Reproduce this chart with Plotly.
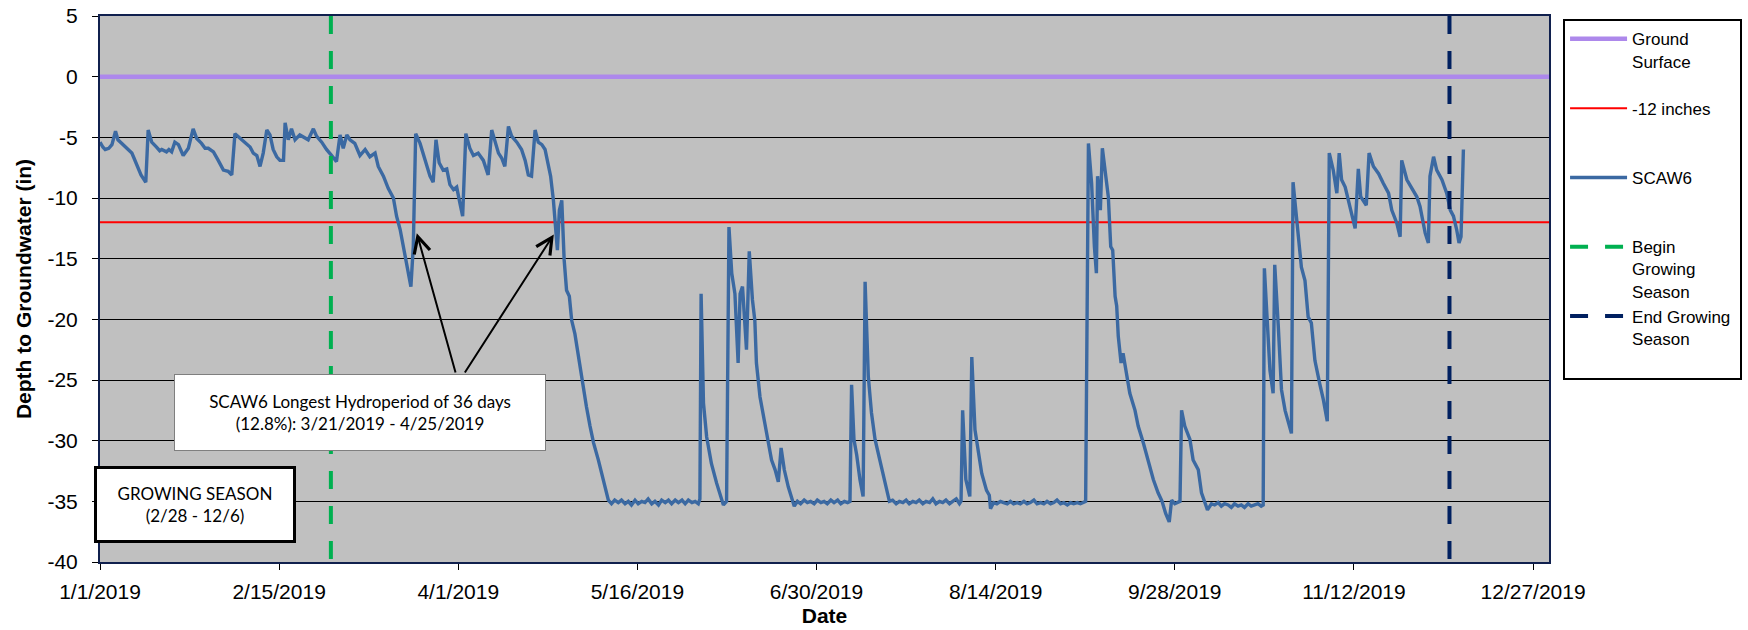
import plotly.graph_objects as go
import pandas as pd

# ---------------- data ----------------
# SCAW6 depth to groundwater: day offset from 1/1/2019 and depth (in)
scaw6_day = [
    0, 0.7, 1.3, 2.2, 3.0, 3.9, 4.5, 5.4, 6.3, 7.1, 8.0, 8.4, 9.0, 9.6, 10.3, 10.9, 11.5,
    12.1, 13.0, 14.2, 15.0, 15.5, 16.7, 17.3, 18.0, 18.8, 19.7, 20.9, 22.2, 23.4, 24.3,
    25.5, 26.4, 27.2, 28.5, 29.7, 31.0, 32.2, 33.1, 33.9, 35.2, 36.4, 37.7, 38.5, 39.4,
    40.2, 41.0, 41.9, 42.7, 43.5, 44.4, 45.2, 46.1, 46.5, 47.3, 48.1, 49.0, 50.2, 51.5,
    52.3, 53.6, 54.4, 55.7, 56.9, 58.2, 59.4, 60.3, 61.1,
    62.0, 62.8, 64.0, 65.3, 66.6, 67.8, 69.1, 69.9, 71.2, 72.4, 73.7, 74.5, 75.4, 76.6,
    77.5, 78.1, 78.7, 79.3, 80.4, 81.6, 82.9, 83.7, 84.4, 85.2, 86.2, 87.1, 87.9, 88.8,
    89.6, 90.4, 91.1, 91.9, 92.9, 93.8, 95.0, 96.3, 97.5, 98.4, 99.2, 100.1, 100.9, 101.7,
    102.6, 103.4, 104.7, 105.9, 106.8, 107.6, 108.4, 109.3, 110.1, 111.0, 111.8, 112.6,
    113.2, 113.9, 114.5, 114.9, 115.4, 116.0, 116.6, 117.2, 117.9, 118.5, 119.3, 120.2,
    121.0, 122.2, 123.1,
    124.0, 125.2, 126.4, 127.7, 128.5, 129.3, 130.2, 131.0, 131.9, 132.7, 133.5, 134.4,
    135.2, 136.1, 136.9, 137.7, 138.6, 139.4, 140.3, 141.1, 142.0, 142.8, 143.6, 144.5,
    145.3, 146.2, 147.0, 147.8, 148.7, 149.5, 150.3, 150.7, 151.0, 151.6, 152.4, 153.6,
    154.9, 155.7, 156.6, 157.4, 158.0, 158.7, 159.5, 160.3, 160.8, 161.4, 162.4, 163.1,
    163.9, 164.5, 164.9, 165.8, 167.0, 167.9, 168.7, 169.6, 170.4, 171.1, 171.9, 172.9,
    173.7, 174.4, 175.2, 176.0, 176.9, 177.7, 178.5, 179.4, 180.2, 181.1, 181.9, 182.7,
    183.6, 184.4,
    185.3, 186.1, 187.0, 187.8, 188.4, 188.8, 189.4, 190.1, 190.9, 191.7, 192.2, 193.0,
    193.8, 194.7, 195.9, 197.2, 198.3, 199.1, 200.0, 200.8, 201.7, 202.5, 203.3, 204.2,
    205.0, 205.8, 206.7, 207.5, 208.4, 209.2, 210.0, 210.9, 211.7, 212.5, 213.4, 214.2,
    215.1, 215.9, 216.3, 216.7, 217.5, 218.5, 219.0, 219.8, 220.6, 221.5, 222.7, 223.4,
    223.7, 224.5, 225.3, 226.2, 227.0, 227.9, 228.7, 229.5, 230.4, 231.2, 232.1, 232.9,
    233.7, 234.6, 235.4, 236.3, 237.1, 237.9, 238.8, 239.6, 240.4, 241.3, 242.1, 243.0,
    243.8, 244.6, 245.5,
    246.3, 247.0, 247.6, 248.3, 249.1, 249.8, 250.3, 250.6, 251.3, 251.8, 252.4, 253.3,
    253.9, 254.4, 255.0, 255.4, 255.8, 256.5, 257.0, 257.9, 258.7, 260.0, 260.8, 262.1,
    263.3, 264.6, 265.8, 266.8, 267.7, 268.6, 269.2, 270.0, 271.3, 271.7, 272.5, 273.8,
    274.6, 275.9, 276.7, 278.2, 279.2, 280.0, 280.9, 281.7, 282.5, 283.4, 284.2, 285.0,
    285.9, 286.7, 287.5, 288.4, 289.2, 290.0, 290.9, 291.7, 292.2, 292.5, 293.3, 293.9,
    294.7, 295.1, 296.0, 296.8, 297.7, 298.5, 299.3, 299.7, 300.6, 301.4, 301.8, 302.7,
    303.5, 304.3, 305.2, 306.4, 307.3, 308.3,
    308.8, 309.8, 310.7, 311.3, 311.9, 312.8, 314.0, 315.3, 316.1, 316.7, 318.1, 318.8,
    319.9, 321.2, 322.4, 323.7, 324.5, 325.8, 326.6, 327.0, 328.3, 329.5, 330.8, 331.6,
    332.9, 333.7, 334.1, 335.0, 335.8, 337.1, 338.3, 339.2, 340.0, 340.8, 341.4, 341.9,
    342.5,
]
scaw6_depth = [
    -5.4, -5.8, -6.0, -5.9, -5.6, -4.5, -5.2, -5.5, -5.8, -6.0, -6.3, -6.6, -7.1, -7.7, -8.1, -8.4, -8.7,
    -4.4, -5.4, -5.8, -6.1, -6.0, -6.2, -6.0, -6.2, -5.4, -5.6, -6.5, -5.9, -4.3, -5.1,
    -5.5, -5.9, -5.9, -6.2, -6.9, -7.7, -7.8, -8.1, -4.7, -5.1, -5.4, -5.8, -6.3, -6.5,
    -7.4, -6.3, -4.4, -4.8, -6.0, -6.6, -6.9, -6.9, -3.8, -5.2, -4.3, -5.2, -4.8, -5.1,
    -5.2, -4.3, -4.9, -5.4, -6.0, -6.5, -7.0, -4.8, -5.9,
    -4.8, -5.2, -5.5, -6.5, -6.0, -6.6, -6.3, -7.4, -8.2, -9.2, -10.0, -11.5, -12.6, -14.6,
    -16.2, -17.3, -14.0, -4.7, -5.5, -6.9, -8.2, -8.7, -5.2, -7.1, -7.7, -7.6, -8.9, -9.3,
    -9.1, -10.4, -11.5, -4.7, -5.9, -6.5, -6.3, -6.9, -8.1, -4.4, -5.4, -6.3, -6.7, -7.4,
    -4.1, -4.9, -5.4, -6.0, -6.9, -8.1, -8.2, -4.4, -5.4, -5.6, -6.0, -7.1,
    -8.2, -10.2, -12.9, -14.3, -11.0, -10.2, -15.1, -17.6, -18.1, -20.1, -21.2, -23.1,
    -25.0, -27.2, -28.8,
    -30.2, -31.6, -33.2, -34.9, -35.2, -34.9, -35.1, -34.9, -35.2, -35.0, -35.3, -34.9,
    -35.2, -35.0, -35.1, -34.8, -35.2, -35.0, -35.3, -34.9, -35.1, -34.9, -35.2, -34.9,
    -35.1, -34.9, -35.2, -34.9, -35.1, -35.0, -35.2, -34.8, -17.9, -26.9, -29.7, -31.9,
    -33.5, -34.3, -35.3, -35.0, -12.4, -16.2, -17.9, -23.6, -17.9, -17.3, -22.5, -14.4,
    -18.4, -20.1, -23.6, -26.4, -28.6, -30.5, -31.6, -32.4, -33.4, -30.6, -32.4, -33.8,
    -34.6, -35.4, -35.0, -35.2, -34.9, -35.1, -35.0, -35.2, -34.9, -35.1, -35.0, -35.2,
    -34.9, -35.1,
    -34.9, -35.2, -35.0, -35.1, -35.0, -25.4, -29.9, -31.2, -33.2, -34.6, -16.9, -24.7,
    -27.7, -29.9, -31.6, -33.5, -35.0, -34.9, -35.2, -35.0, -35.1, -34.9, -35.2, -35.0,
    -35.1, -34.9, -35.2, -35.0, -35.1, -34.8, -35.2, -35.0, -35.1, -34.9, -35.2, -35.0,
    -34.8, -35.2, -35.0, -27.5, -33.2, -34.6, -23.1, -29.1, -31.0, -32.7, -34.1, -34.5,
    -35.6, -35.1, -35.2, -35.0, -35.1, -35.2, -35.0, -35.2, -35.1, -35.2, -35.0, -35.2,
    -35.1, -34.9, -35.2, -35.1, -35.2, -35.0, -35.2, -35.1, -34.9, -35.2, -35.1, -35.3,
    -35.1, -35.2, -35.1,
    -35.2, -35.1, -35.0, -5.5, -8.8, -14.0, -16.2, -8.2, -11.0, -5.9, -7.7, -9.9,
    -14.0, -14.3, -18.1, -18.9, -21.4, -23.6, -22.8, -24.7, -26.1, -27.5, -28.8, -30.2,
    -31.6, -33.2, -34.3, -35.0, -36.0, -36.7, -34.9, -35.2, -35.0, -27.5, -28.8, -29.9,
    -31.6, -32.4, -34.3, -35.7, -35.2, -35.3, -35.1, -35.4, -35.2, -35.3, -35.5, -35.2,
    -35.4, -35.3, -35.5, -35.2, -35.4, -35.3, -35.2, -35.4, -35.3, -15.8, -20.6, -24.2,
    -26.1, -15.5, -20.6, -25.8, -27.5, -28.6, -29.4, -8.7, -11.8, -14.0, -15.7, -16.8,
    -19.8, -20.3, -23.4, -25.3, -26.6, -28.4,
    -6.3, -7.7, -9.6, -6.3, -8.5, -9.1, -10.7, -12.5, -7.6, -9.9, -10.6, -6.3,
    -7.4, -8.0, -8.8, -9.6, -11.0, -12.1, -13.2, -6.9, -8.5, -9.2, -9.9, -10.7,
    -12.9, -13.7, -8.2, -6.6, -7.7, -8.5, -9.6, -11.0, -11.5, -12.6, -13.7, -13.2,
    -6.0,
]

start_date = "2019-01-01"
end_date = "2019-12-31"
ground_surface = 0
threshold_12in = -12
begin_growing = "2019-02-28"
end_growing = "2019-12-06"

x_tick_dates = ["2019-01-01", "2019-02-15", "2019-04-01", "2019-05-16", "2019-06-30",
                "2019-08-14", "2019-09-28", "2019-11-12", "2019-12-27"]
x_tick_labels = ["1/1/2019", "2/15/2019", "4/1/2019", "5/16/2019", "6/30/2019",
                 "8/14/2019", "9/28/2019", "11/12/2019", "12/27/2019"]
y_tick_vals = [5, 0, -5, -10, -15, -20, -25, -30, -35, -40]
y_tick_labels = ["5", "0", "-5", "-10", "-15", "-20", "-25", "-30", "-35", "-40"]

# arrows: head (date, depth) and tail (date, depth)
arrow_heads = [("2019-03-21 14:00", -12.9), ("2019-04-25 00:00", -13.0)]
arrow_tails = [("2019-03-31 10:00", -24.5), ("2019-04-02 10:00", -24.5)]

# ---------------- figure ----------------
scaw6_dates = pd.Timestamp(start_date) + pd.to_timedelta(scaw6_day, unit="D")

fig = go.Figure()
fig.add_trace(go.Scatter(
    x=[start_date, end_date], y=[ground_surface, ground_surface], mode="lines",
    name="Ground<br>Surface<br> ", legendgroup="g1",
    line=dict(color="#AD88EB", width=4.5)))
fig.add_trace(go.Scatter(
    x=[start_date, end_date], y=[threshold_12in, threshold_12in], mode="lines",
    name="-12 inches<br> <br> ", legendgroup="g2",
    line=dict(color="#FF0000", width=2)))
fig.add_trace(go.Scatter(
    x=scaw6_dates, y=scaw6_depth, mode="lines",
    name="SCAW6<br> <br> ", legendgroup="g3",
    line=dict(color="#3B69A2", width=3.4)))
fig.add_trace(go.Scatter(
    x=[begin_growing, begin_growing], y=[5, -40], mode="lines",
    name="Begin<br>Growing<br>Season", legendgroup="g4",
    line=dict(color="#00B050", width=4, dash="18px,17px")))
fig.add_trace(go.Scatter(
    x=[end_growing, end_growing], y=[5, -40], mode="lines",
    name="End Growing\u00a0<br>Season<br> ", legendgroup="g5",
    line=dict(color="#002060", width=4, dash="18px,17px")))

annotations = []
for (hx, hy), (tx, ty) in zip(arrow_heads, arrow_tails):
    annotations.append(dict(
        x=hx, y=hy, ax=tx, ay=ty, xref="x", yref="y", axref="x", ayref="y",
        text="", showarrow=True, arrowhead=5, arrowsize=1.6, arrowwidth=2,
        arrowcolor="black", standoff=0, startstandoff=0))

annotations.append(dict(
    x=0.1794, y=0.2738, xref="paper", yref="paper", xanchor="center", yanchor="middle",
    text="SCAW6 Longest Hydroperiod of 36 days<br>(12.8%): 3/21/2019 - 4/25/2019",
    showarrow=False, font=dict(family="Lato", size=17, color="black"),
    bgcolor="white", bordercolor="#7F7F7F", borderwidth=1, borderpad=0,
    width=370, height=75, align="center"))
annotations.append(dict(
    x=0.0659, y=0.1044, xref="paper", yref="paper", xanchor="center", yanchor="middle",
    text="GROWING SEASON<br>(2/28 - 12/6)",
    showarrow=False, font=dict(family="Lato", size=17, color="black"),
    bgcolor="white", bordercolor="black", borderwidth=3, borderpad=0,
    width=196, height=71, align="center"))

axis_font = dict(family="Liberation Sans, Arial", size=21, color="black")
title_font = dict(family="Liberation Sans, Arial", size=21, color="black")

fig.update_layout(
    width=1748, height=630,
    margin=dict(l=100, r=199, t=16, b=68, autoexpand=False),
    paper_bgcolor="white", plot_bgcolor="#C0C0C0",
    showlegend=True,
    legend=dict(
        x=1.0097, y=0.994, xanchor="left", yanchor="top",
        bgcolor="white", bordercolor="black", borderwidth=2,
        font=dict(family="Liberation Sans, Arial", size=17, color="black"),
        itemwidth=57, tracegroupgap=12, valign="top", traceorder="normal"),
    annotations=annotations,
    xaxis=dict(
        type="date", range=[start_date, end_date], automargin=False,
        tickvals=x_tick_dates, ticktext=x_tick_labels,
        showgrid=False, zeroline=False,
        ticks="outside", ticklen=6, tickwidth=1, tickcolor="black",
        showline=True, linecolor="#10204E", linewidth=2, mirror=True,
        tickfont=axis_font, ticklabelstandoff=4,
        title=dict(text="<b>Date</b>", font=title_font, standoff=6)),
    yaxis=dict(
        range=[-40, 5], tickvals=y_tick_vals, ticktext=y_tick_labels, automargin=False,
        showgrid=True, gridcolor="black", gridwidth=1, zeroline=False,
        ticks="outside", ticklen=6, tickwidth=1, tickcolor="black",
        showline=True, linecolor="#10204E", linewidth=2, mirror=True,
        tickfont=axis_font, ticklabelstandoff=10,
        title=dict(text="<b>Depth to Groundwater (in)</b>", font=title_font, standoff=10)),
)

fig.write_html("out.html", config={"displayModeBar": False},
               post_script="document.body.style.margin='0';")
